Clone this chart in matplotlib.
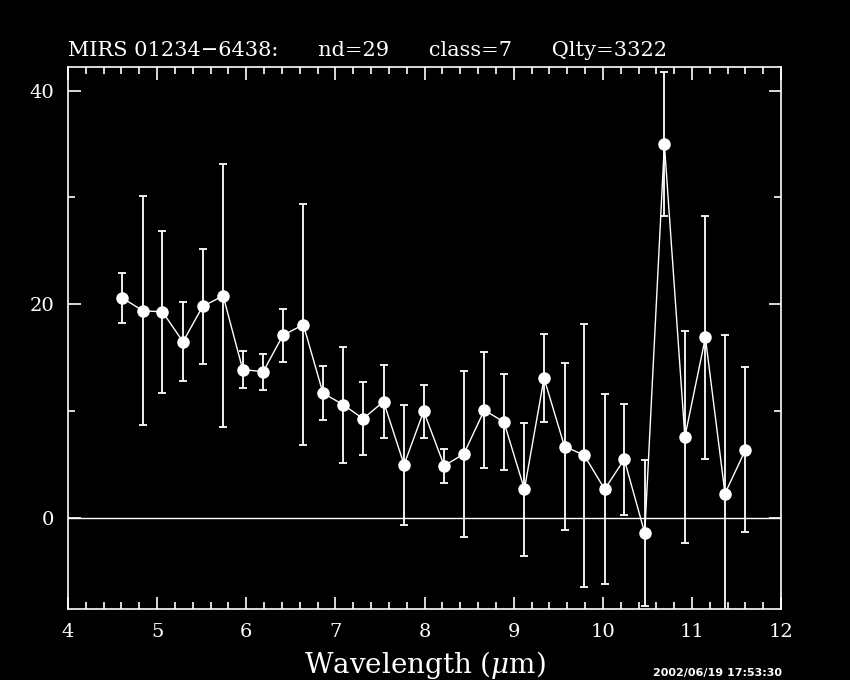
import matplotlib
matplotlib.use('Agg')
import matplotlib.pyplot as plt
from matplotlib.ticker import MultipleLocator

# wavelength (micron), flux and error
wave = [4.61, 4.84, 5.06, 5.29, 5.51, 5.74, 5.96, 6.19, 6.41, 6.64, 6.86,
        7.09, 7.31, 7.54, 7.77, 7.99, 8.22, 8.44, 8.67, 8.89, 9.12, 9.34,
        9.57, 9.79, 10.02, 10.24, 10.47, 10.69, 10.92, 11.15, 11.37, 11.60]
flux = [20.6, 19.4, 19.3, 16.5, 19.8, 20.8, 13.9, 13.7, 17.1, 18.1, 11.7,
        10.6, 9.3, 10.9, 5.0, 10.0, 4.9, 6.0, 10.1, 9.0, 2.7, 13.1,
        6.7, 5.9, 2.7, 5.5, -1.4, 35.0, 7.6, 16.9, 2.3, 6.4]
err = [2.3, 10.7, 7.6, 3.7, 5.4, 12.3, 1.7, 1.7, 2.5, 11.3, 2.5,
       5.4, 3.4, 3.4, 5.6, 2.5, 1.6, 7.8, 5.4, 4.5, 6.2, 4.1,
       7.8, 12.3, 8.9, 5.2, 6.8, 6.7, 9.9, 11.4, 14.8, 7.7]

title = 'MIRS 01234\u22126438:      nd=29      class=7      Qlty=3322'
stamp = '2002/06/19 17:53:30'

plt.rcParams['font.family'] = ['DejaVu Serif']
plt.rcParams['mathtext.fontset'] = 'dejavuserif'

fig = plt.figure(figsize=(8.5, 6.8), dpi=100, facecolor='black')
ax = fig.add_axes([0.08, 0.1044, 0.839, 0.797], facecolor='black')

ax.axhline(0, color='white', lw=1)
ax.errorbar(wave, flux, yerr=err, fmt='-o', color='white', ms=8, lw=1,
            elinewidth=1.3, capsize=3, capthick=1.3, mec='white', mfc='white')

ax.set_xlim(4, 12)
ax.set_ylim(-8.5, 42.2)
ax.xaxis.set_major_locator(MultipleLocator(1))
ax.xaxis.set_minor_locator(MultipleLocator(0.2))
ax.yaxis.set_major_locator(MultipleLocator(20))
ax.yaxis.set_minor_locator(MultipleLocator(10))

for s in ax.spines.values():
    s.set_color('white')
    s.set_linewidth(1.2)
ax.tick_params(which='both', direction='in', colors='white', top=True, right=True,
               labelsize=14)
ax.tick_params(which='major', length=9, width=1.2, pad=10)
ax.tick_params(which='minor', length=5, width=1.2)

ax.set_xlabel(r'Wavelength ($\mu$m)', color='white', fontsize=20, labelpad=6)
ax.text(0.0, 1.013, title, transform=ax.transAxes, color='white', fontsize=15,
        ha='left', va='bottom')
fig.text(0.768, 0.003, stamp, color='white', fontsize=8, fontweight='bold',
         family='DejaVu Sans', ha='left', va='bottom')

fig.savefig('out.png', dpi=100, facecolor='black')
